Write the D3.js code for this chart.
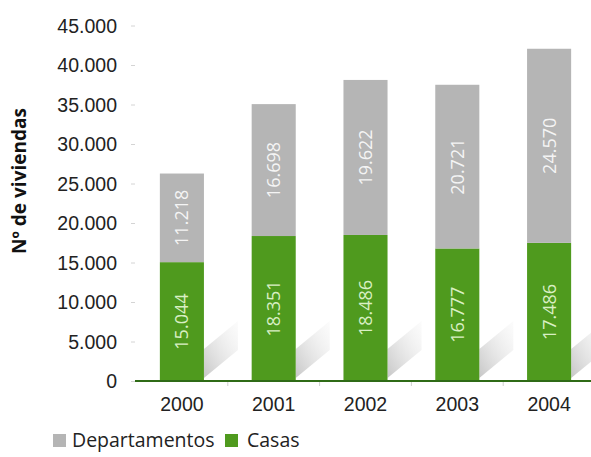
<!DOCTYPE html>
<html>
<head>
<meta charset="utf-8">
<script src="https://cdn.jsdelivr.net/npm/d3@7"></script>
<style>
  html, body { margin: 0; padding: 0; background: #fff; }
  svg { display: block; font-family: "Open Sans", "Noto Sans", sans-serif; }
</style>
</head>
<body>
<svg id="chart" width="591" height="457"></svg>
<script>
// Viviendas por año: casas y departamentos
const years = ["2000", "2001", "2002", "2003", "2004"];
const casas = [15044, 18351, 18486, 16777, 17486];
const departamentos = [11218, 16698, 19622, 20721, 24570];
const yTicks = [0, 5000, 10000, 15000, 20000, 25000, 30000, 35000, 40000, 45000];
const seriesNames = ["Departamentos", "Casas"];

const colors = { Casas: "#4f9a1e", Departamentos: "#b5b5b5" };
const labelColors = { Casas: "#d9efc4", Departamentos: "#f4f4f4" };

const locale = d3.formatLocale({ decimal: ",", thousands: ".", grouping: [3], currency: ["$", ""] });
const fmt = locale.format(",d");

const svg = d3.select("#chart");

const x = d3.scaleBand()
  .domain(years)
  .range([136, 595])
  .paddingInner(0.52)
  .paddingOuter(0.26);

const y = d3.scaleLinear()
  .domain([0, 45000])
  .range([381, 25.5]);

const rows = years.map((yr, i) => ({ year: yr, Casas: casas[i], Departamentos: departamentos[i] }));
const stack = d3.stack().keys(["Casas", "Departamentos"]);
const stacked = stack(rows);

// gradient for the diagonal shadows beside each bar
const defs = svg.append("defs");
const grad = defs.append("linearGradient")
  .attr("id", "shade").attr("x1", "0").attr("y1", "1").attr("x2", "1").attr("y2", "0");
grad.append("stop").attr("offset", "0%").attr("stop-color", "#bcbcbc").attr("stop-opacity", 0.85);
grad.append("stop").attr("offset", "100%").attr("stop-color", "#eeeeee").attr("stop-opacity", 0.2);

// Y axis: labels and small tick dashes
const yAxis = svg.append("g").attr("transform", "translate(135,0)")
  .call(d3.axisLeft(y).tickValues(yTicks).tickFormat(fmt).tickSize(4).tickPadding(14));
yAxis.select(".domain").remove();
yAxis.selectAll(".tick line").attr("stroke", "#d4d4d4");
yAxis.selectAll(".tick text")
  .attr("fill", "#222").style("font-size", "19.5px")
  .attr("dy", "0.35em");

// Axis title
svg.append("text")
  .attr("transform", `translate(26,${181}) rotate(-90)`)
  .attr("text-anchor", "middle")
  .style("font-size", "19px").style("font-weight", "700")
  .attr("fill", "#111")
  .text("Nº de viviendas");

// Shadows
svg.append("g").selectAll("polygon")
  .data(years)
  .join("polygon")
  .attr("fill", "url(#shade)")
  .attr("points", d => {
    const r = x(d) + x.bandwidth();
    const b = y(0);
    return [[r, b - 3], [r, b - 32], [r + 34, b - 60], [r + 34, b - 31]].map(p => p.join(",")).join(" ");
  });

// Bars
const layers = svg.append("g").selectAll("g")
  .data(stacked)
  .join("g")
  .attr("fill", s => colors[s.key]);

layers.selectAll("rect")
  .data(s => s.map(v => ({ key: s.key, v })))
  .join("rect")
  .attr("x", d => x(d.v.data.year))
  .attr("width", x.bandwidth())
  .attr("y", d => y(d.v[1]))
  .attr("height", d => y(d.v[0]) - y(d.v[1]));

// Value labels inside bars
layers.selectAll("text")
  .data(s => s.map(v => ({ key: s.key, v })))
  .join("text")
  .attr("transform", d => {
    const cx = x(d.v.data.year) + x.bandwidth() / 2;
    const cy = (y(d.v[0]) + y(d.v[1])) / 2;
    return `translate(${cx},${cy}) rotate(-90)`;
  })
  .attr("text-anchor", "middle")
  .attr("dy", "0.36em")
  .attr("fill", d => labelColors[d.key])
  .style("font-size", "18px")
  .text(d => fmt(d.v.data[d.key]));

// X axis
const xAxis = svg.append("g").attr("transform", `translate(0,${y(0)})`)
  .call(d3.axisBottom(x).tickSize(0).tickPadding(16));
xAxis.select(".domain").remove();
xAxis.selectAll(".tick text").attr("fill", "#222").style("font-size", "19.5px");

// separators between categories
svg.append("g").selectAll("line")
  .data(years.slice(1))
  .join("line")
  .attr("x1", d => x(d) - x.step() * x.paddingInner() / 2)
  .attr("x2", d => x(d) - x.step() * x.paddingInner() / 2)
  .attr("y1", y(0)).attr("y2", y(0) + 5)
  .attr("stroke", "#d0d0d0");

svg.append("line")
  .attr("x1", 135).attr("x2", 591)
  .attr("y1", y(0)).attr("y2", y(0))
  .attr("stroke", "#2f6b16").attr("stroke-width", 2);

// Legend
const legend = svg.append("g").attr("transform", "translate(0,447)");
const legendX = [53, 225];
const legendItems = legend.selectAll("g")
  .data(seriesNames)
  .join("g")
  .attr("transform", (d, i) => `translate(${legendX[i]},0)`);
legendItems.append("rect")
  .attr("x", 0).attr("y", -13).attr("width", 13).attr("height", 13)
  .attr("fill", d => colors[d]);
legendItems.append("text")
  .attr("x", (d, i) => i === 0 ? 19 : 22)
  .attr("y", 0)
  .attr("fill", "#222")
  .style("font-size", "19.5px")
  .text(d => d);
</script>
</body>
</html>
